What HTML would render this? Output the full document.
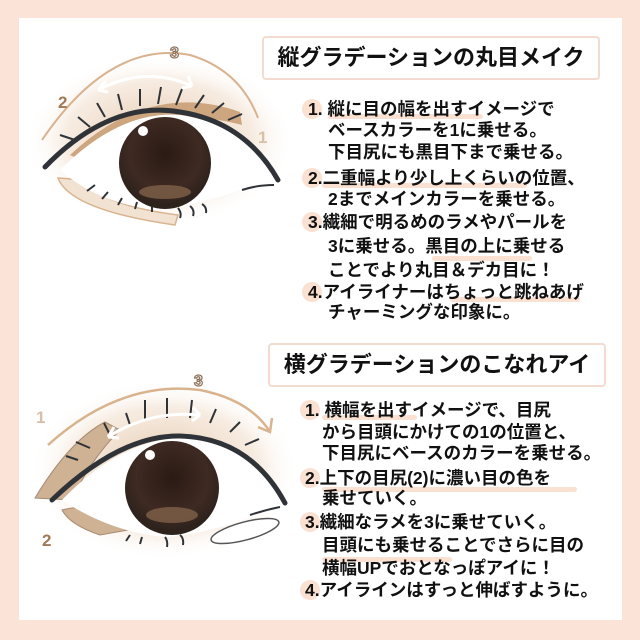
<!DOCTYPE html>
<html><head><meta charset="utf-8"><style>
html,body{margin:0;padding:0}
body{width:640px;height:640px;background:#fce3d8;position:relative;overflow:hidden;font-family:"Liberation Sans","Noto Sans CJK JP",sans-serif}
.panel{position:absolute;left:19px;top:18px;width:603px;height:602px;background:#fff}
.title{position:absolute;border:2px solid #f3dccf;border-radius:4px;background:#fff;font-weight:bold;font-size:22px;color:#111;text-align:center;box-sizing:border-box;white-space:nowrap}
.t{position:absolute;font-weight:bold;font-size:17.5px;color:#111;white-space:nowrap;line-height:22px}
.n{position:absolute;width:20px;height:20px;border-radius:50%;background:#fbe1d2}
.u{position:absolute;height:5px;background:#fbe1d2;border-radius:3px}
svg{position:absolute;left:0;top:0}
</style></head><body>
<div class="panel"></div>
<svg width="640" height="640" viewBox="0 0 640 640">
<defs>
<radialGradient id="sh" cx="50%" cy="50%" r="50%"><stop offset="0" stop-color="#d9b48f" stop-opacity=".8"/><stop offset=".7" stop-color="#efd9c4" stop-opacity=".5"/><stop offset="1" stop-color="#fff" stop-opacity="0"/></radialGradient>
<radialGradient id="ir" cx="50%" cy="40%" r="55%"><stop offset="0" stop-color="#2a1a14"/><stop offset=".7" stop-color="#3e2a22"/><stop offset="1" stop-color="#2e221d"/></radialGradient>
</defs>
<!-- eye 1 -->
<ellipse cx="160" cy="140" rx="135" ry="85" fill="url(#sh)"/>
<path d="M42,140 Q110,40 190,55 Q240,70 258,118" fill="none" stroke="#d9b38e" stroke-width="2"/>
<path d="M70,155 Q150,80 240,112 L242,125 Q150,100 85,162Z" fill="#cda57e"/>
<path d="M58,178 Q70,210 175,225 L178,215 Q100,205 85,180Z" fill="#f1e2d2" stroke="#d9b38e" stroke-width="1.5"/>
<path d="M60,170 Q120,110 180,115 Q250,125 278,178 Q200,205 160,210 Q100,205 60,170Z" fill="#fff"/>
<path d="M45,167 Q110,100 180,112 Q245,122 278,180" fill="none" stroke="#2f3338" stroke-width="5" stroke-linecap="round"/>
<g stroke="#2f3338" stroke-width="2" fill="none">
<path d="M75,140 l-15,-5 M90,127 l-12,-10 M105,117 l-8,-14 M122,110 l-4,-16 M140,106 l0,-17 M158,104 l3,-17 M176,105 l6,-16 M195,108 l9,-13 M212,113 l12,-10 M228,120 l14,-6"/>
<path d="M95,185 l-8,6 M108,192 l-6,7 M122,198 l-4,7 M137,202 l-2,7 M152,205 l0,7 M178,208 q4,5 2,10 M190,206 q5,4 3,10 M202,204 q5,3 4,9"/>
<path d="M242,190 q15,-5 32,-5"/>
</g>
<circle cx="165" cy="163" r="46" fill="url(#ir)"/>
<ellipse cx="165" cy="192" rx="26" ry="7" fill="#8a6a50" opacity=".7"/>
<circle cx="143" cy="131" r="5" fill="#fff"/>
<path d="M98,90 Q145,65 192,86" fill="none" stroke="#fff" stroke-width="3"/>
<path d="M98,90 l8,-9 M98,90 l10,2 M192,86 l-4,-10 M192,86 l-10,2" stroke="#fff" stroke-width="3"/>
<text x="170" y="58" font-size="16" font-weight="bold" fill="#fff" stroke="#8a6e55" stroke-width="1.2" font-family="Liberation Sans">3</text>
<text x="58" y="108" font-size="17" font-weight="bold" fill="#a07a58" font-family="Liberation Sans">2</text>
<text x="258" y="143" font-size="17" font-weight="bold" fill="#d9bfa6" font-family="Liberation Sans">1</text>
<!-- eye 2 -->
<ellipse cx="165" cy="470" rx="135" ry="90" fill="url(#sh)"/>
<path d="M48,445 Q120,380 200,390 Q250,400 270,432" fill="none" stroke="#d9b38e" stroke-width="2.5"/>
<path d="M258,427 l12,5 l2,-14" fill="none" stroke="#d9b38e" stroke-width="2.5"/>
<path d="M35,498 Q70,440 105,422 L120,430 Q90,460 72,500Z" fill="#cfb193" stroke="#a58c74" stroke-width="1"/>
<path d="M62,510 Q100,500 128,530 L100,535 Q70,525 62,510Z" fill="#cfb193" stroke="#a58c74" stroke-width="1"/>
<path d="M62,500 Q120,440 180,438 Q250,440 283,505 Q210,535 165,537 Q110,532 62,500Z" fill="#fff"/>
<path d="M52,500 Q120,435 180,436 Q250,438 285,503" fill="none" stroke="#2f3338" stroke-width="5" stroke-linecap="round"/>
<g stroke="#2f3338" stroke-width="2" fill="none">
<path d="M78,460 l-12,-4 M90,448 l-14,-6 M110,435 l-6,-12 M130,425 l-4,-12 M145,420 l0,-20 M167,418 l0,-20 M190,418 l2,-18 M210,423 l6,-14 M230,432 l10,-10 M245,445 l14,-6"/>
<path d="M130,535 l-4,6 M142,537 l-2,7 M165,537 q3,4 2,10 M180,535 q4,3 3,10"/>
<path d="M250,515 q15,-5 30,-8"/>
</g>
<ellipse cx="245" cy="531" rx="35" ry="9" transform="rotate(-15 245 531)" fill="#fff" stroke="#555" stroke-width="1.5"/>
<circle cx="172" cy="488" r="47" fill="url(#ir)"/>
<ellipse cx="172" cy="515" rx="26" ry="8" fill="#8a6a50" opacity=".7"/>
<circle cx="150" cy="455" r="5" fill="#fff"/>
<path d="M108,437 Q150,410 200,415" fill="none" stroke="#fff" stroke-width="3"/>
<path d="M108,437 l6,-10 M108,437 l11,1 M200,415 l-7,-8 M200,415 l-8,6" stroke="#fff" stroke-width="3"/>
<text x="194" y="386" font-size="16" font-weight="bold" fill="#fff" stroke="#8a6e55" stroke-width="1.2" font-family="Liberation Sans">3</text>
<text x="36" y="423" font-size="17" font-weight="bold" fill="#d9bfa6" font-family="Liberation Sans">1</text>
<text x="42" y="546" font-size="17" font-weight="bold" fill="#a07a58" font-family="Liberation Sans">2</text>
</svg>

<div class="title" style="left:262px;top:36px;width:338px;height:44px;line-height:40px">縦グラデーションの丸目メイク</div>
<div class="title" style="left:268px;top:343px;width:338px;height:44px;line-height:40px">横グラデーションのこなれアイ</div>

<div class="n" style="left:302px;top:99px"></div>
<div class="u" style="left:328px;top:114px;width:155px"></div>
<div class="n" style="left:302px;top:168px"></div>
<div class="u" style="left:322px;top:183px;width:205px"></div>
<div class="n" style="left:302px;top:212px"></div>
<div class="u" style="left:432px;top:256px;width:100px"></div>
<div class="n" style="left:302px;top:282px"></div>
<div class="u" style="left:450px;top:297px;width:130px"></div>

<div class="t" style="left:308px;top:98px">1. 縦に目の幅を出すイメージで</div>
<div class="t" style="left:328px;top:119px">ベースカラーを1に乗せる。</div>
<div class="t" style="left:328px;top:141px">下目尻にも黒目下まで乗せる。</div>
<div class="t" style="left:308px;top:167px">2.二重幅より少し上くらいの位置、</div>
<div class="t" style="left:328px;top:188px">2までメインカラーを乗せる。</div>
<div class="t" style="left:308px;top:211px">3.繊細で明るめのラメやパールを</div>
<div class="t" style="left:328px;top:235px">3に乗せる。黒目の上に乗せる</div>
<div class="t" style="left:328px;top:259px">ことでより丸目＆デカ目に！</div>
<div class="t" style="left:308px;top:281px">4.アイライナーはちょっと跳ねあげ</div>
<div class="t" style="left:328px;top:301px">チャーミングな印象に。</div>

<div class="n" style="left:300px;top:400px"></div>
<div class="u" style="left:322px;top:415px;width:95px"></div>
<div class="n" style="left:300px;top:468px"></div>
<div class="u" style="left:322px;top:487px;width:255px"></div>
<div class="n" style="left:300px;top:512px"></div>
<div class="u" style="left:322px;top:557px;width:130px"></div>
<div class="n" style="left:300px;top:580px"></div>

<div class="t" style="left:305px;top:399px">1. 横幅を出すイメージで、目尻</div>
<div class="t" style="left:322px;top:421px">から目頭にかけての1の位置と、</div>
<div class="t" style="left:322px;top:442px">下目尻にベースのカラーを乗せる。</div>
<div class="t" style="left:305px;top:467px">2.上下の目尻(2)に濃い目の色を</div>
<div class="t" style="left:322px;top:487px">乗せていく。</div>
<div class="t" style="left:305px;top:511px">3.繊細なラメを3に乗せていく。</div>
<div class="t" style="left:322px;top:534px">目頭にも乗せることでさらに目の</div>
<div class="t" style="left:322px;top:557px">横幅UPでおとなっぽアイに！</div>
<div class="t" style="left:305px;top:579px">4.アイラインはすっと伸ばすように。</div>
</body></html>
